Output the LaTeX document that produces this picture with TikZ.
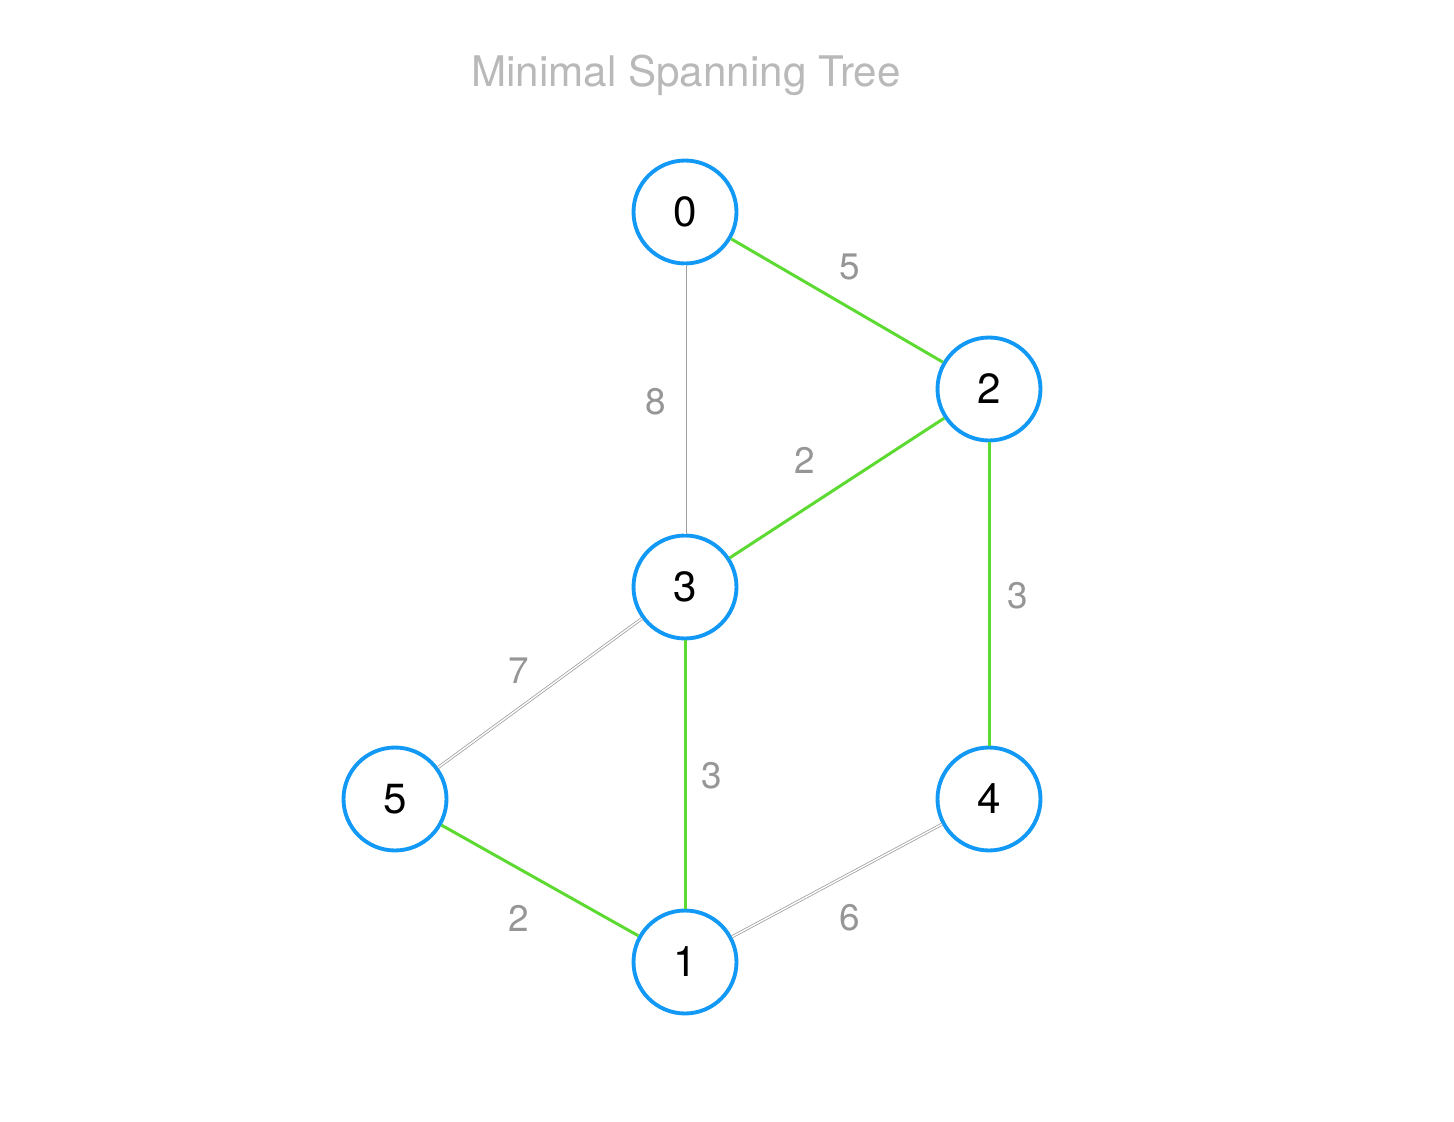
\documentclass[tikz,border=0pt]{standalone}
\usepackage{fontspec}
\setmainfont{TeX Gyre Heros}
\usetikzlibrary{shapes,calc}

\definecolor{vblue}{RGB}{18,152,245}
\definecolor{tgreen}{RGB}{92,218,50}
\definecolor{wgray}{RGB}{150,150,150}

\begin{document}
\begin{tikzpicture}[x=0.02cm,y=-0.02cm]
	\tikzstyle{vertex}=[circle, draw=vblue, line width=2.2pt, fill=white, minimum size=2.06cm, inner sep=0pt, font=\fontsize{24}{24}\selectfont]
	\tikzstyle{tree}=[draw=tgreen, line width=1.7pt]
	\tikzstyle{other}=[draw=gray!75, line width=0.45pt, double=white, double distance=0.8pt]
	\tikzstyle{weight}=[text=wgray, font=\fontsize{21}{21}\selectfont]
	\useasboundingbox (0,0) rectangle (1454,1122);

	\node[text=gray!55, font=\fontsize{24}{24}\selectfont] (title) at (686,75) {Minimal Spanning Tree};

	% vertices
	\node[vertex] (v0) at (685,212) {0};
	\node[vertex] (v2) at (989,389) {2};
	\node[vertex] (v3) at (685,587) {3};
	\node[vertex] (v5) at (395,799) {5};
	\node[vertex] (v4) at (989,799) {4};
	\node[vertex] (v1) at (685,962) {1};

	% edges
	\draw[tree] (v0) -- (v2);
	\draw[other] (v0) -- (v3);
	\draw[tree] (v2) -- (v3);
	\draw[tree] (v2) -- (v4);
	\draw[other] (v3) -- (v5);
	\draw[tree] (v3) -- (v1);
	\draw[tree] (v5) -- (v1);
	\draw[other] (v1) -- (v4);

	% weights
	\node[weight] (w02) at (850,267) {5};
	\node[weight] (w03) at (656,402) {8};
	\node[weight] (w23) at (805,460) {2};
	\node[weight] (w24) at (1018,596) {3};
	\node[weight] (w35) at (519,671) {7};
	\node[weight] (w31) at (712,776) {3};
	\node[weight] (w51) at (519,918) {2};
	\node[weight] (w14) at (850,918) {6};
\end{tikzpicture}
\end{document}
